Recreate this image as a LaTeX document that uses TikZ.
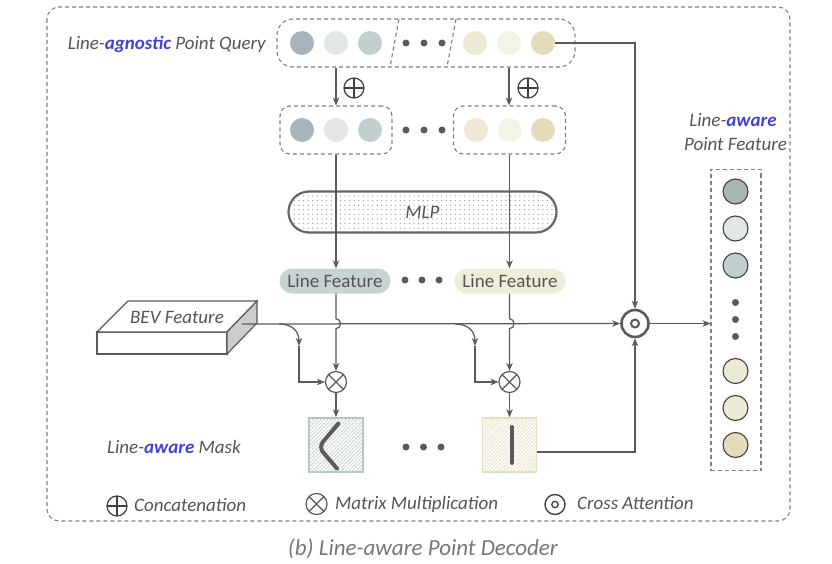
\documentclass[tikz,border=0pt]{standalone}
\usepackage{fontspec}
\setmainfont{Carlito}
\usetikzlibrary{arrows.meta,patterns,calc}
\pgfdeclarepatternformonly{sparsedots}{\pgfqpoint{-1pt}{-1pt}}{\pgfqpoint{1pt}{1pt}}{\pgfqpoint{4.6pt}{4.6pt}}{%
  \pgfpathcircle{\pgfqpoint{0pt}{0pt}}{0.65pt}\pgfusepath{fill}}
\pgfdeclarepatternformonly{widehatch}{\pgfqpoint{-1pt}{-1pt}}{\pgfqpoint{4pt}{4pt}}{\pgfqpoint{3.6pt}{3.6pt}}{%
  \pgfsetlinewidth{0.7pt}\pgfpathmoveto{\pgfqpoint{-0.5pt}{-0.5pt}}\pgfpathlineto{\pgfqpoint{4.1pt}{4.1pt}}\pgfusepath{stroke}}
\definecolor{txt}{HTML}{555555}
\definecolor{ln}{HTML}{5A5A5A}
\definecolor{blu}{HTML}{4343D3}
\definecolor{bA}{HTML}{A7B5BA}
\definecolor{bB}{HTML}{E1E7E8}
\definecolor{bC}{HTML}{C3CED1}
\definecolor{yA}{HTML}{EDE9D5}
\definecolor{yB}{HTML}{F4F3E8}
\definecolor{yC}{HTML}{E2DCBB}
\definecolor{pillB}{HTML}{C7D2D4}
\definecolor{pillY}{HTML}{EFECD9}
\definecolor{dashc}{HTML}{808080}
\definecolor{capc}{HTML}{777777}
\definecolor{symc}{HTML}{404040}
\definecolor{maskB}{HTML}{B3C2C6}
\definecolor{maskBh}{HTML}{C9D2D5}
\definecolor{maskY}{HTML}{E6DFBF}
\definecolor{maskYh}{HTML}{E8E1C4}
\definecolor{sidec}{HTML}{CCCCCC}
\definecolor{mlpc}{HTML}{666666}
\tikzset{
  qdot/.style={circle, inner sep=0pt, minimum size=24pt, fill=#1},
  cdot/.style={circle, inner sep=0pt, minimum size=25pt, fill=#1, draw=symc, line width=1.1pt},
  sdot/.style={circle, fill=ln, inner sep=0pt, minimum size=7pt},
  conn/.style={draw=ln, line width=1.25pt},
  arr/.style={conn, -{Stealth[length=8pt,width=6.5pt,inset=2.5pt]}},
  dbox/.style={draw=dashc, dash pattern=on 4pt off 3pt, line width=1.1pt},
  lbl/.style={text=txt, inner sep=0pt},
  oplus/.style={circle, draw=symc, line width=1.2pt, minimum size=20pt, inner sep=0pt,
    path picture={\draw[symc, line width=1.2pt] (path picture bounding box.north) -- (path picture bounding box.south)
      (path picture bounding box.west) -- (path picture bounding box.east);}},
  otimes/.style={circle, draw=ln, line width=1.2pt, fill=white, minimum size=21pt, inner sep=0pt,
    path picture={\draw[ln, line width=1.1pt] (path picture bounding box.north west) -- (path picture bounding box.south east)
      (path picture bounding box.north east) -- (path picture bounding box.south west);}},
  odot/.style={circle, draw=ln, line width=2.6pt, fill=white, minimum size=27pt, inner sep=0pt,
    path picture={\draw[ln, line width=2pt] (path picture bounding box.center) circle (4pt);}},
  odotsm/.style={circle, draw=symc, line width=1.4pt, minimum size=20pt, inner sep=0pt,
    path picture={\draw[symc, line width=1.3pt] (path picture bounding box.center) circle (3.2pt);}},
  pill/.style={rounded corners=12.5pt, minimum width=111pt, minimum height=25pt, inner sep=0pt, text=txt},
  maskbox/.style={minimum size=54pt, inner sep=0pt, line width=1.6pt, fill=white},
  stroke/.style={draw=ln, line width=4pt, line cap=round},
}
\begin{document}
\begin{tikzpicture}[x=1pt,y=-1pt, font=\fontsize{19}{22}\selectfont]
\useasboundingbox (0,0) rectangle (832,564);
% outer container
\draw[dbox, rounded corners=12pt] (47,7) rectangle (790,521);

% query row
\node[lbl] (qlab) at (167,44) {\textit{Line-\textcolor{blu}{\textbf{agnostic}} Point Query}};
\node[dbox, rounded corners=16pt, minimum width=298pt, minimum height=48pt, inner sep=0pt] (qbox) at (426,43) {};
\draw[dbox] (399,19) -- (390,67);
\draw[dbox] (456,19) -- (447,67);
\node[qdot=bA] (q1) at (302,43) {};
\node[qdot=bB] (q2) at (336,43) {};
\node[qdot=bC] (q3) at (370,43) {};
\node[sdot] (qd1) at (406,43) {};
\node[sdot] (qd2) at (424,43) {};
\node[sdot] (qd3) at (442,43) {};
\node[qdot=yA] (q4) at (475,43) {};
\node[qdot=yB] (q5) at (509,43) {};
\node[qdot=yC] (q6) at (543,43) {};

% concat symbols
\node[oplus] (p1) at (354,88) {};
\node[oplus] (p2) at (528,88) {};

% second row
\node[dbox, rounded corners=10pt, minimum width=112pt, minimum height=48pt, inner sep=0pt] (b1) at (336,130) {};
\node[dbox, rounded corners=10pt, minimum width=112pt, minimum height=48pt, inner sep=0pt] (b2) at (509.5,130) {};
\node[qdot=bA] (r1) at (302,130) {};
\node[qdot=bB] (r2) at (336,130) {};
\node[qdot=bC] (r3) at (370,130) {};
\node[sdot] (rd1) at (406,130) {};
\node[sdot] (rd2) at (424,130) {};
\node[sdot] (rd3) at (442,130) {};
\node[qdot=yA] (r4) at (476,130) {};
\node[qdot=yB] (r5) at (509.5,130) {};
\node[qdot=yC] (r6) at (543,130) {};

% MLP
\node[draw=mlpc, line width=2.2pt, rounded corners=20.5pt, minimum width=268pt, minimum height=41pt,
  pattern=sparsedots, pattern color=gray!85, text=txt] (mlp) at (422.5,212) {\textit{MLP}};

% line features
\node[pill, fill=pillB] (lf1) at (335,281) {Line Feature};
\node[pill, fill=pillY] (lf2) at (510,281) {Line Feature};
\node[sdot] (ld1) at (405,280) {};
\node[sdot] (ld2) at (422,280) {};
\node[sdot] (ld3) at (439,280) {};

% BEV feature slab
\draw[ln, line width=1.2pt, fill=white] (97,332) rectangle (227,354);
\draw[ln, line width=1.2pt, fill=white] (97,332) -- (128,301) -- (257,301) -- (227,332) -- cycle;
\draw[ln, line width=1.2pt, fill=sidec] (227,332) -- (257,301) -- (257,323) -- (227,354) -- cycle;
\node[lbl] (bev) at (177,317) {\textit{BEV Feature}};
\coordinate (bevout) at (242,324);

% operators
\node[odot] (ca) at (635,323.5) {};
\node[otimes] (m1) at (336,382) {};
\node[otimes] (m2) at (509.5,382) {};

% masks
\node[maskbox, draw=maskB, postaction={pattern=widehatch, pattern color=maskBh}] (k1) at (336,445) {};
\node[maskbox, draw=maskY, postaction={pattern=widehatch, pattern color=maskYh}] (k2) at (509.5,445) {};
\draw[stroke, rounded corners=7pt] (338.5,423.5) -- (318.5,447) -- (337,468.5);
\draw[stroke] (511.5,427) -- (511.5,463);
\node[sdot] (kd1) at (406,447) {};
\node[sdot] (kd2) at (423.5,447) {};
\node[sdot] (kd3) at (441,447) {};
\node[lbl] (masklab) at (174,447) {\textit{Line-\textcolor{blu}{\textbf{aware}} Mask}};

% output column
\node[lbl] (olab1) at (733,120) {\textit{Line-\textcolor{blu}{\textbf{aware}}}};
\node[lbl] (olab2) at (735.5,144) {\textit{Point Feature}};
\node[dbox, minimum width=50pt, minimum height=301pt, inner sep=0pt] (col) at (736,320) {};
\node[cdot=bA] (c1) at (735.5,191.5) {};
\node[cdot=bB] (c2) at (735.5,228.5) {};
\node[cdot=bC] (c3) at (735.5,265.5) {};
\node[sdot] (cd1) at (735.5,302.5) {};
\node[sdot] (cd2) at (735.5,319.5) {};
\node[sdot] (cd3) at (735.5,336.5) {};
\node[cdot=yA] (c4) at (735.5,371) {};
\node[cdot=yA] (c5) at (735.5,408) {};
\node[cdot=yC] (c6) at (735.5,445) {};

% connectors
\draw[arr] (qbox.south -| q2) -- (b1.north -| q2);
\draw[arr] (qbox.south -| q5) -- (b2.north -| q5);
\draw[arr] (b1.south -| r2) -- (lf1.north -| r2);
\draw[arr] (b2.south -| r5) -- (lf2.north -| r5);
\draw[arr] (q6.east) -| (ca.north);
\draw[arr] (bevout) -- (ca.west);
\draw[arr] (lf1.south -| m1) -- ++(0,25) .. controls +(6,0) and +(6,0) .. ++(0,10) -- (m1.north);
\draw[arr] (lf2.south -| m2) -- ++(0,25) .. controls +(6,0) and +(6,0) .. ++(0,10) -- (m2.north);
\coordinate (br1) at (279,324);
\coordinate (bt1) at (299,346);
\coordinate (br2) at (455,324);
\coordinate (bt2) at (475,346);
\draw[arr] (br1) .. controls (292,324) and (299,331) .. (bt1);
\draw[arr] (bt1) |- (m1.west);
\draw[arr] (br2) .. controls (468,324) and (475,331) .. (bt2);
\draw[arr] (bt2) |- (m2.west);
\draw[arr] (m1.south) -- (k1.north);
\draw[arr] (m2.south) -- (k2.north);
\draw[arr] ([yshift=-7pt]k2.east) -| (ca.south);
\draw[arr] (ca.east) -- (ca.east -| col.west);

% legend
\node[oplus] (lg1) at (117,506) {};
\node[lbl, anchor=west] (lt1) at (134,505) {\textit{Concatenation}};
\node[otimes] (lg2) at (316.5,504) {};
\node[lbl, anchor=west] (lt2) at (335,504) {\textit{Matrix Multiplication}};
\node[odotsm] (lg3) at (555,504.5) {};
\node[lbl, anchor=west] (lt3) at (577,503) {\textit{Cross Attention}};

% caption
\node[text=capc, inner sep=0pt, font=\fontsize{23}{26}\selectfont] (cap) at (423,549) {\textit{(b) Line-aware Point Decoder}};
\end{tikzpicture}
\end{document}
